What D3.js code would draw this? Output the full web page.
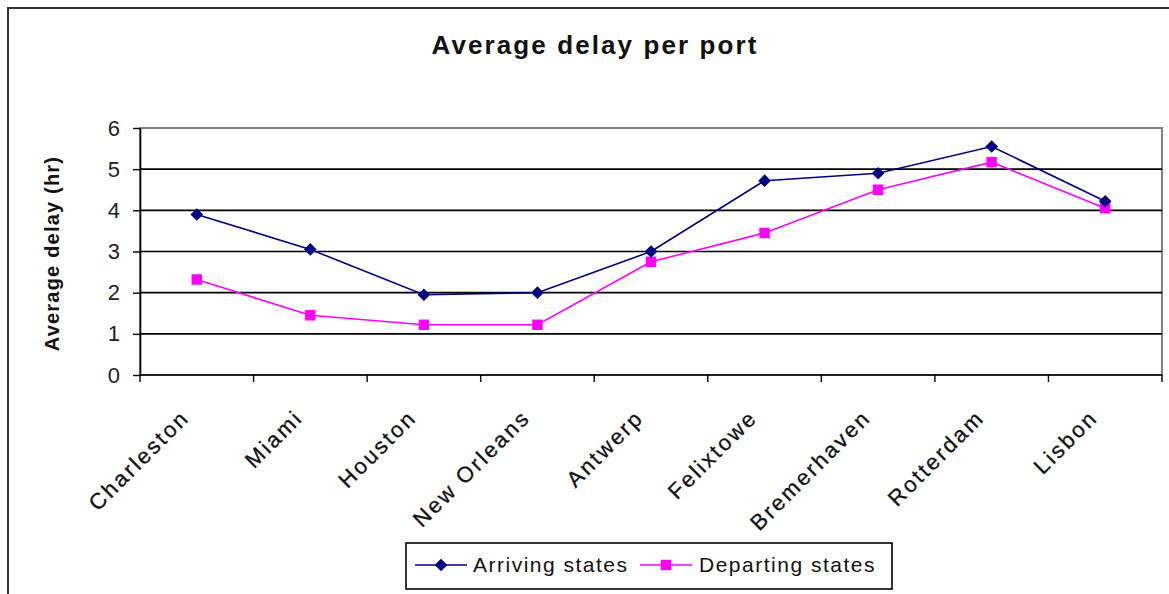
<!DOCTYPE html>
<html>
<head>
<meta charset="utf-8">
<script src="https://cdn.jsdelivr.net/npm/d3@7"></script>
<style>
  html, body { margin: 0; padding: 0; background: #fff; }
  svg { display: block; font-family: "Liberation Sans", Arial, sans-serif; }
</style>
</head>
<body>
<svg id="chart" width="1169" height="594"></svg>
<script>
// Ports along the x axis
const ports = ["Charleston", "Miami", "Houston", "New Orleans", "Antwerp",
               "Felixtowe", "Bremerhaven", "Rotterdam", "Lisbon"];
// Average delay in hours for each port
const arriving  = [3.9, 3.05, 1.95, 2.0, 3.0, 4.72, 4.9, 5.55, 4.22];
const departing = [2.32, 1.45, 1.22, 1.22, 2.75, 3.45, 4.5, 5.17, 4.05];
const yTicks = [0, 1, 2, 3, 4, 5, 6];
const seriesNames = ["Arriving states", "Departing states"];

const svg = d3.select("#chart");
const plot = { left: 140, right: 1162, top: 128, bottom: 375 };

// outer chart frame
svg.append("rect")
  .attr("x", 8).attr("y", 8).attr("width", 1200).attr("height", 620)
  .attr("fill", "#fff").attr("stroke", "#333").attr("stroke-width", 2);

const x = d3.scaleBand().domain(ports).range([plot.left, plot.right]);
const y = d3.scaleLinear().domain([0, 6]).range([plot.bottom, plot.top]);

// plot area border
svg.append("rect")
  .attr("x", plot.left).attr("y", plot.top)
  .attr("width", plot.right - plot.left).attr("height", plot.bottom - plot.top)
  .attr("fill", "none").attr("stroke", "#808080").attr("stroke-width", 2);

// horizontal gridlines
svg.append("g").selectAll("line")
  .data(yTicks.filter(d => d > 0 && d < 6))
  .join("line")
  .attr("x1", plot.left).attr("x2", plot.right)
  .attr("y1", d => y(d)).attr("y2", d => y(d))
  .attr("stroke", "#000").attr("stroke-width", 1.6);

// y axis
const yAxis = svg.append("g")
  .attr("transform", `translate(${plot.left},0)`)
  .call(d3.axisLeft(y).tickValues(yTicks).tickFormat(d3.format("d"))
        .tickSize(7).tickPadding(13).tickSizeOuter(0));
yAxis.select(".domain").attr("stroke", "#000").attr("stroke-width", 1.6);
yAxis.selectAll(".tick line").attr("stroke", "#000").attr("stroke-width", 1.4);
yAxis.selectAll(".tick text")
  .attr("font-size", 22).attr("fill", "#222")
  .attr("font-family", "'Liberation Sans', Arial, sans-serif");

// x axis: ticks sit on band boundaries
const xAxisG = svg.append("g").attr("transform", `translate(0,${plot.bottom})`);
xAxisG.append("line")
  .attr("x1", plot.left).attr("x2", plot.right)
  .attr("stroke", "#000").attr("stroke-width", 1.6);
const boundaries = ports.map(p => x(p)).concat([x(ports[ports.length - 1]) + x.bandwidth()]);
xAxisG.selectAll("line.tk").data(boundaries).join("line")
  .attr("class", "tk")
  .attr("x1", d => d).attr("x2", d => d)
  .attr("y1", 0).attr("y2", 7)
  .attr("stroke", "#000").attr("stroke-width", 1.4);

// rotated category labels
xAxisG.selectAll("text").data(ports).join("text")
  .attr("transform", d => `translate(${x(d) + x.bandwidth() / 2 - 6},${44}) rotate(-45)`)
  .attr("text-anchor", "end")
  .attr("font-size", 22)
  .attr("letter-spacing", 2.5)
  .attr("stroke", "#111").attr("stroke-width", 0.3)
  .attr("fill", "#111")
  .text(d => d);

// y axis title
svg.append("text")
  .attr("transform", `translate(59,${(plot.top + plot.bottom) / 2 + 2}) rotate(-90)`)
  .attr("text-anchor", "middle")
  .attr("font-size", 20).attr("font-weight", "bold")
  .attr("letter-spacing", 1.2)
  .attr("fill", "#111")
  .text("Average delay (hr)");

// chart title
svg.append("text")
  .attr("x", 595).attr("y", 54)
  .attr("text-anchor", "middle")
  .attr("font-size", 26).attr("font-weight", "bold")
  .attr("letter-spacing", 2.1)
  .attr("fill", "#111")
  .text("Average delay per port");

const cx = d => x(d) + x.bandwidth() / 2;
const line = d3.line().x(d => cx(d.port)).y(d => y(d.v));
const arrData = ports.map((p, i) => ({ port: p, v: arriving[i] }));
const depData = ports.map((p, i) => ({ port: p, v: departing[i] }));

const navy = "#000080", magenta = "#ff00ff";
const diamond = d3.symbol().type(d3.symbolSquare).size(80);
const square = d3.symbol().type(d3.symbolSquare).size(110);

// departing series
svg.append("path").datum(depData)
  .attr("d", line).attr("fill", "none")
  .attr("stroke", magenta).attr("stroke-width", 1.6);
svg.append("g").selectAll("path").data(depData).join("path")
  .attr("transform", d => `translate(${cx(d.port)},${y(d.v)})`)
  .attr("d", square).attr("fill", magenta);

// arriving series
svg.append("path").datum(arrData)
  .attr("d", line).attr("fill", "none")
  .attr("stroke", navy).attr("stroke-width", 1.6);
svg.append("g").selectAll("path").data(arrData).join("path")
  .attr("transform", d => `translate(${cx(d.port)},${y(d.v)}) rotate(45)`)
  .attr("d", diamond).attr("fill", navy);

// legend
const lg = svg.append("g");
lg.append("rect")
  .attr("x", 406).attr("y", 543).attr("width", 486).attr("height", 46)
  .attr("fill", "#fff").attr("stroke", "#000").attr("stroke-width", 1.6);
const entries = [
  { name: seriesNames[0], color: navy, x0: 415, tx: 473, sym: diamond, rot: 45 },
  { name: seriesNames[1], color: magenta, x0: 640, tx: 699, sym: square, rot: 0 }
];
entries.forEach(e => {
  lg.append("line")
    .attr("x1", e.x0).attr("x2", e.x0 + 52).attr("y1", 565).attr("y2", 565)
    .attr("stroke", e.color).attr("stroke-width", 1.6);
  lg.append("path")
    .attr("transform", `translate(${e.x0 + 26},565) rotate(${e.rot})`)
    .attr("d", e.sym).attr("fill", e.color);
  lg.append("text")
    .attr("x", e.tx).attr("y", 572)
    .attr("font-size", 21).attr("letter-spacing", 1.5)
    .attr("fill", "#111")
    .text(e.name);
});
</script>
</body>
</html>
